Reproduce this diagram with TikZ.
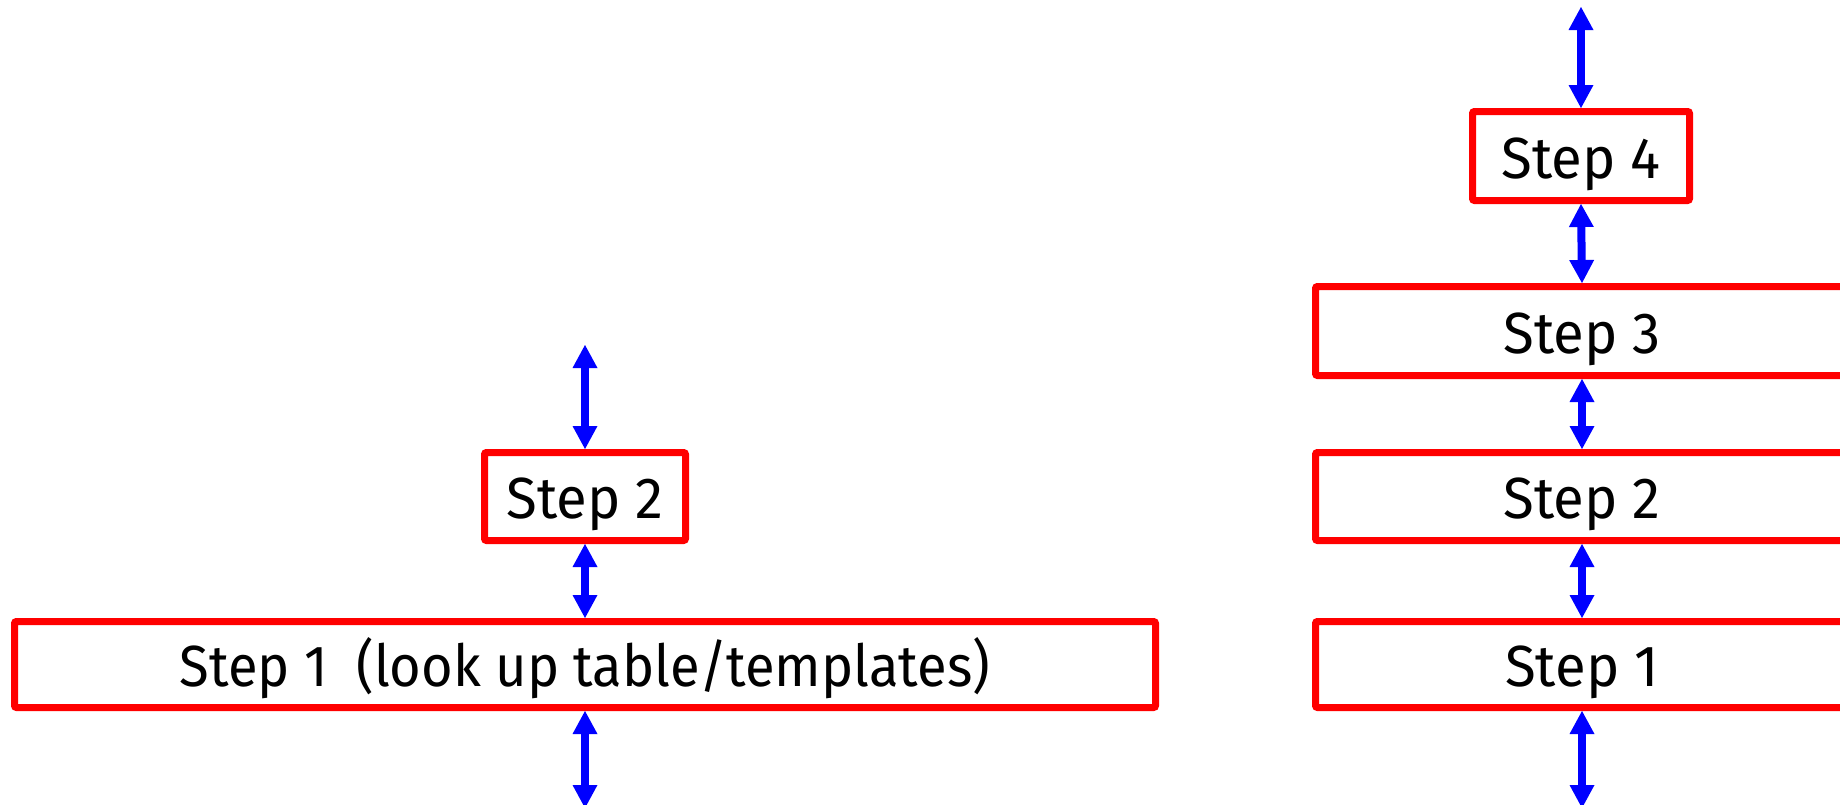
\documentclass[tikz,border=0pt]{standalone}
\usepackage{fontspec}
\usepackage{graphicx}
\setmainfont[FakeStretch=0.97]{Fira Sans}
\usetikzlibrary{arrows.meta}
\begin{document}
\begin{tikzpicture}[x=1pt,y=-1pt,
  stepbox/.style={draw=red, line width=7pt, rounded corners=2pt, inner sep=0pt,
    font=\fontsize{58}{60}\selectfont, text height=44pt, text depth=0pt},
  tipend/.tip={Triangle[width=25pt,length=23pt,line width=0pt]},
  link/.style={draw=blue, line width=8pt, tipend-tipend}]
  \useasboundingbox (0,0) rectangle (1840,804);
  \clip (0,0) rectangle (1840,804);

  % left stack
  \node[stepbox, minimum width=201pt, minimum height=88pt] (s2L) at (585,496.5) {Step 2};
  \node[stepbox, minimum width=1141pt, minimum height=86pt] (s1L) at (585,664.5)
    {\scalebox{0.965}[1]{Step 1 \ (look up table/templates)}};
  \coordinate (tL) at (585,345);
  \coordinate (bL) at (585,808);

  % right stack
  \node[stepbox, minimum width=217pt, minimum height=89pt] (s4R) at (1581,156) {Step 4};
  \node[stepbox, minimum width=533pt, minimum height=89pt] (s3R) at (1582,331) {Step 3};
  \node[stepbox, minimum width=533pt, minimum height=88pt] (s2R) at (1582,496.5) {Step 2};
  \node[stepbox, minimum width=533pt, minimum height=86pt] (s1R) at (1582,664.5) {Step 1};
  \coordinate (tR) at (1581,7);
  \coordinate (bR) at (1582,808);

  % connectors
  \draw[link] (tL) -- (s2L.north);
  \draw[link] (s2L.south) -- (s1L.north);
  \draw[link] (s1L.south) -- (bL);

  \draw[link] (tR) -- (s4R.north);
  \draw[link] (s4R.south) -- (s3R.north);
  \draw[link] (s3R.south) -- (s2R.north);
  \draw[link] (s2R.south) -- (s1R.north);
  \draw[link] (s1R.south) -- (bR);
\end{tikzpicture}
\end{document}
